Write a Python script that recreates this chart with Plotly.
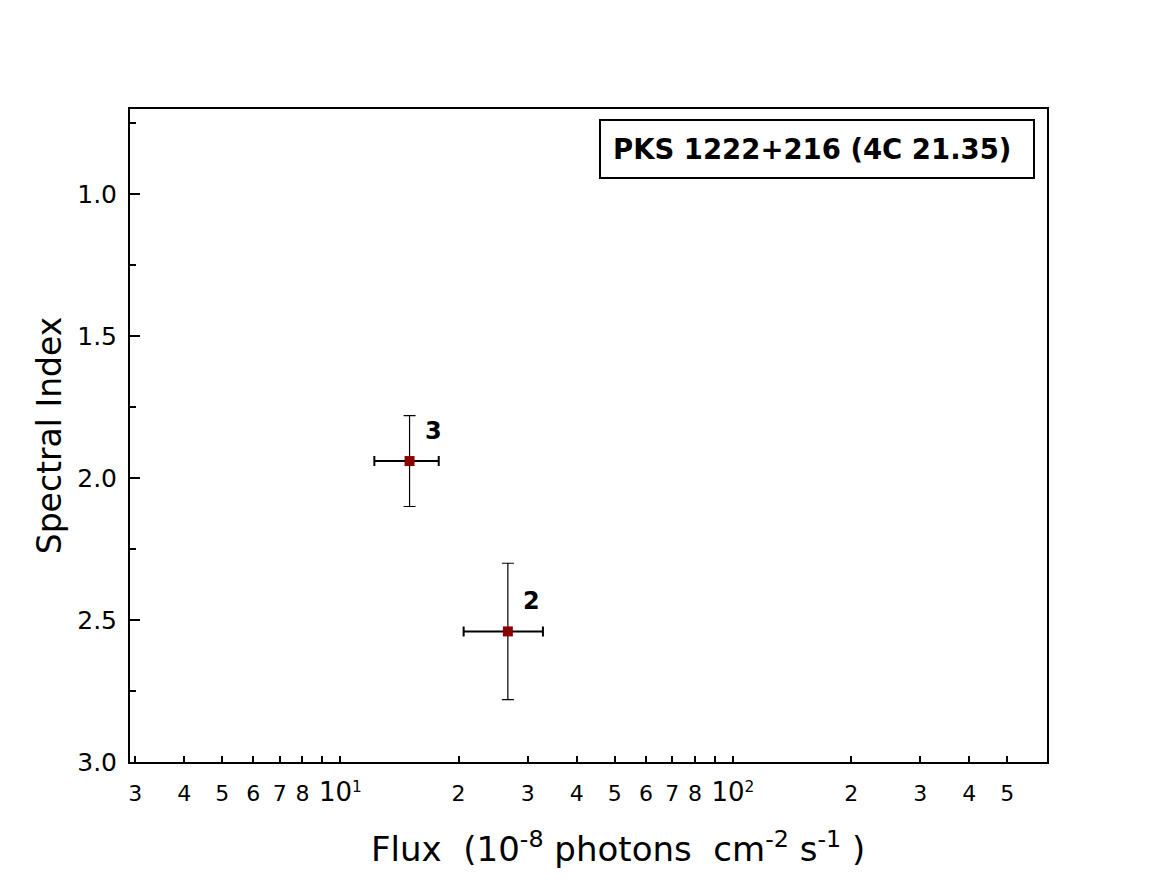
import math
import plotly.graph_objects as go

# flares of PKS 1222+216
flare_ids = ["2", "3"]
flux = [26.7, 15.0]            # 1e-8 photons cm^-2 s^-1
flux_err = [6.1, 2.8]
spectral_index = [2.54, 1.94]
index_err = [0.24, 0.16]

x_tickvals = [3, 4, 5, 6, 7, 8, 9, 10, 20, 30, 40, 50, 60, 70, 80, 90, 100, 200, 300, 400, 500]
decade_vals = [10, 100]
x_range = [2.91, 631]
y_range = [3.0, 0.70]

FONT = "DejaVu Sans"
DECADE_LABEL = "<span style='font-size:26px'>10</span><sup>%d</sup>"


def x_ticktext(vals):
    out = []
    for v in vals:
        if v in decade_vals:
            out.append(DECADE_LABEL % round(math.log10(v)))
        elif str(v)[0] == "9":
            out.append(" ")
        else:
            out.append(str(v)[0])
    return out


fig = go.Figure()
fig.add_trace(go.Scatter(
    x=flux, y=spectral_index, mode="markers",
    marker=dict(symbol="square", size=10, color="#8b0000"),
    error_x=dict(type="data", array=flux_err, color="black", thickness=2, width=5),
    error_y=dict(type="data", array=index_err, color="black", thickness=1.2, width=6),
    showlegend=False,
))

for fx, fy, name in zip(flux, spectral_index, flare_ids):
    fig.add_annotation(x=math.log10(fx), y=fy, text="<b>%s</b>" % name, showarrow=False,
                       xshift=24, yshift=30, font=dict(family=FONT, size=24, color="black"))

fig.add_annotation(xref="paper", yref="paper", x=0.987, y=0.985, xanchor="right", yanchor="top",
                   text="<b>PKS 1222+216 (4C 21.35)</b>", showarrow=False, align="left",
                   width=408, borderpad=12, bordercolor="black", borderwidth=2,
                   font=dict(family=FONT, size=27.5, color="black"))

fig.add_annotation(xref="paper", yref="paper", x=0.532, y=-0.130, xanchor="center", yanchor="middle",
                   text="Flux  (10<sup>-8</sup> photons  cm<sup>-2</sup> s<sup>-1</sup> )",
                   showarrow=False, font=dict(family=FONT, size=34, color="black"))

# page body has an 8px margin, so the figure is a bit smaller than the window
fig.update_layout(
    width=1142, height=878,
    margin=dict(l=122, r=103, t=101, b=124),
    paper_bgcolor="white", plot_bgcolor="white",
    font=dict(family=FONT, color="black"),
    xaxis=dict(
        type="log", range=[math.log10(x_range[0]), math.log10(x_range[1])],
        tickmode="array", tickvals=x_tickvals, ticktext=x_ticktext(x_tickvals),
        tickangle=0,
        ticks="inside", ticklen=6, tickwidth=2, tickcolor="black",
        tickfont=dict(family=FONT, size=22), ticklabelstandoff=11,
        showline=True, linewidth=2, linecolor="black", mirror=True,
        showgrid=False, zeroline=False,
    ),
    xaxis2=dict(
        type="log", range=[math.log10(x_range[0]), math.log10(x_range[1])],
        overlaying="x", anchor="y", side="bottom",
        tickmode="array", tickvals=decade_vals, showticklabels=False,
        ticks="inside", ticklen=10, tickwidth=2, tickcolor="black",
        showline=False, showgrid=False, zeroline=False,
    ),
    yaxis=dict(
        range=y_range, tick0=1.0, dtick=0.5, tickformat=".1f",
        ticks="inside", ticklen=10, tickwidth=2, tickcolor="black",
        minor=dict(dtick=0.25, ticks="inside", ticklen=6, tickwidth=2, tickcolor="black"),
        tickfont=dict(family=FONT, size=25), ticklabelstandoff=6,
        title=dict(text="Spectral Index", font=dict(family=FONT, size=33), standoff=6),
        showline=True, linewidth=2, linecolor="black", mirror=True,
        showgrid=False, zeroline=False,
    ),
)

fig.write_html("out.html")
